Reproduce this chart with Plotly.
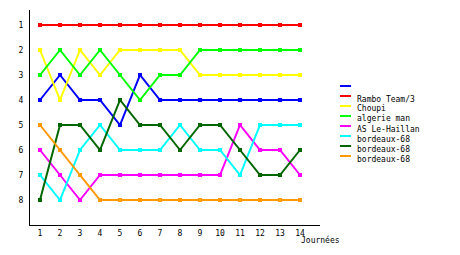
import plotly.graph_objects as go

journees = list(range(1, 15))
names = ["", "Rambo Team/3", "Choupi", "algerie man", "AS Le-Haillan",
         "bordeaux-68", "bordeaux-68", "bordeaux-68"]
colors = ["#0000FF", "#FF0000", "#FFFF00", "#00FF00", "#FF00FF",
          "#00FFFF", "#006600", "#FF9900"]
ranks = [
    [4, 3, 4, 4, 5, 3, 4, 4, 4, 4, 4, 4, 4, 4],
    [1, 1, 1, 1, 1, 1, 1, 1, 1, 1, 1, 1, 1, 1],
    [2, 4, 2, 3, 2, 2, 2, 2, 3, 3, 3, 3, 3, 3],
    [3, 2, 3, 2, 3, 4, 3, 3, 2, 2, 2, 2, 2, 2],
    [6, 7, 8, 7, 7, 7, 7, 7, 7, 7, 5, 6, 6, 7],
    [7, 8, 6, 5, 6, 6, 6, 5, 6, 6, 7, 5, 5, 5],
    [8, 5, 5, 6, 4, 5, 5, 6, 5, 5, 6, 7, 7, 6],
    [5, 6, 7, 8, 8, 8, 8, 8, 8, 8, 8, 8, 8, 8],
]
y_ticks = [1, 2, 3, 4, 5, 6, 7, 8]
x_title = "Journées"

W, H = 460, 255
L, R, T, B = 30, 140, 10, 30
PW, PH = W - L - R, H - T - B


def px(x):
    return (x - L) / PW


def py(y):
    return (H - B - y) / PH


fig = go.Figure()
for n, c, r in zip(names, colors, ranks):
    fig.add_trace(go.Scatter(
        x=journees, y=r, mode="lines+markers", name=n,
        line=dict(color=c, width=2),
        marker=dict(color=c, size=4, symbol="square"),
        showlegend=False, hoverinfo="skip"))

font = dict(family="DejaVu Sans Mono", size=8, color="#000000")

# manual legend
for i, (n, c) in enumerate(zip(names, colors)):
    yy = 86 + 10 * i
    fig.add_shape(type="line", xref="paper", yref="paper",
                  x0=px(340), x1=px(351), y0=py(yy), y1=py(yy),
                  line=dict(color=c, width=2))
    fig.add_annotation(xref="paper", yref="paper", x=px(355), y=py(yy + 3),
                       xanchor="left", yanchor="middle", text=n,
                       showarrow=False, font=font)

fig.add_annotation(xref="paper", yref="paper", x=px(299), y=py(240),
                   xanchor="left", yanchor="middle", text=x_title,
                   showarrow=False, font=font)

fig.update_layout(
    width=W, height=H,
    margin=dict(l=L, r=R, t=T, b=B),
    paper_bgcolor="white", plot_bgcolor="white",
    font=font,
    xaxis=dict(range=[0.5, 15], tickvals=journees, showgrid=False,
               zeroline=False, showline=True, linecolor="black", linewidth=1,
               ticks="", ticklabelstandoff=0,
               tickfont=font),
    yaxis=dict(range=[9, 0.4], tickvals=y_ticks, showgrid=False,
               zeroline=False, showline=True, linecolor="black", linewidth=1,
               ticks="outside", ticklen=4, tickcolor="white",
               tickfont=font),
)

fig.write_html("out.html")
